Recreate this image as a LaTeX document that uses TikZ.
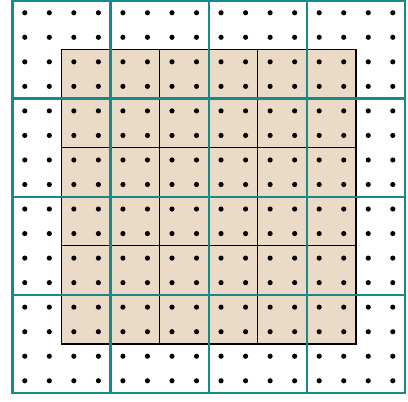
\documentclass[tikz,border=0pt]{standalone}
\definecolor{sable}{RGB}{235,218,198}
\definecolor{canard}{RGB}{20,138,138}
\begin{document}
\begin{tikzpicture}[scale=0.5]
	\def\xY{2};
	\def\yY{2};
	\def\xZ{14};
	\def\yZ{14};
	\useasboundingbox (-0.51,-0.35) rectangle (16.12,16.02);
	\coordinate (O) at (0,0);
	\coordinate (T) at (16,16);
	\coordinate (Y) at (\xY,\yY);
	\coordinate (Z) at (\xZ,\yZ);
	\fill[sable] (Y) rectangle (Z);
	\draw[step=2, black, line width=0.7pt] (Y) grid (Z);
	\draw[black, line width=0.7pt] (Y) rectangle (Z);
	\draw[step=4, canard, line width=1.4pt] (O) grid (T);
	\draw[canard, line width=1.4pt] (O) rectangle (T);
	\foreach \x in {0,...,15}
		\foreach \y in {0,...,15}	\fill (\x+0.5,\y+0.5) circle (0.105);
\end{tikzpicture}
\end{document}
